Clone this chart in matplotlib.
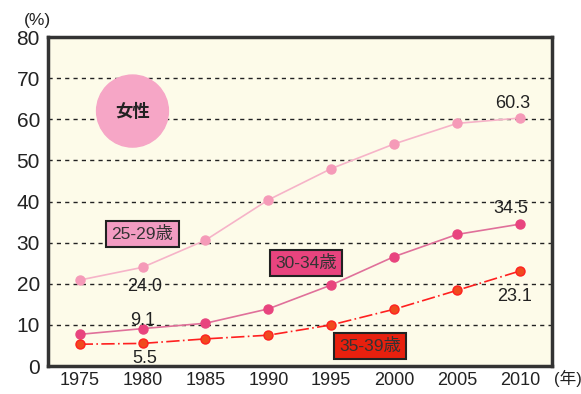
import numpy as np
import matplotlib
matplotlib.use("Agg")
import matplotlib.pyplot as plt
from matplotlib.patches import Ellipse

plt.rcParams['font.family'] = ['Liberation Sans', 'Noto Sans CJK JP']

# Data (unmarried rate of women, %)
years = [1975, 1980, 1985, 1990, 1995, 2000, 2005, 2010]
age_25_29 = [20.9, 24.0, 30.6, 40.4, 48.0, 54.0, 59.0, 60.3]
age_30_34 = [7.7, 9.1, 10.4, 13.9, 19.7, 26.6, 32.0, 34.5]
age_35_39 = [5.3, 5.5, 6.6, 7.5, 10.0, 13.8, 18.4, 23.1]
series_labels = ['25-29歳', '30-34歳', '35-39歳']
y_ticks = [0, 10, 20, 30, 40, 50, 60, 70, 80]

fig = plt.figure(figsize=(5.81, 3.94), dpi=100)
ax = fig.add_axes([0.083, 0.071, 0.867, 0.835])
ax.set_facecolor('#fdfbe9')

# grid
for v in y_ticks[1:-1]:
    ax.axhline(v, color='#222222', lw=1.0, ls=(0, (3, 3)), zorder=1)

ax.plot(years, age_25_29, color='#f6b3c8', lw=1.2, marker='o', ms=6.5,
        mfc='#f59ab8', mec='#f59ab8', zorder=3)
ax.plot(years, age_30_34, color='#e0709a', lw=1.2, marker='o', ms=6.5,
        mfc='#e8447e', mec='#e8447e', zorder=3)
ax.plot(years, age_35_39, color='#ff2020', lw=1.2, ls=(0, (8, 2, 1, 2)),
        marker='o', ms=6.5, mfc='#f04a1e', mec='#ff2020', zorder=3)

# value labels
tk = dict(fontsize=13, color='#222222', ha='center', va='center', zorder=5)
ax.text(2009.4, 63.9, f'{age_25_29[-1]:.1f}', **tk)
ax.text(2009.3, 38.2, f'{age_30_34[-1]:.1f}', **tk)
ax.text(2009.6, 16.8, f'{age_35_39[-1]:.1f}', **tk)
ax.text(1980.2, 19.3, f'{age_25_29[1]:.1f}', **tk)
ax.text(1980.0, 11.0, f'{age_30_34[1]:.1f}', **tk)
ax.text(1980.2, 1.8, f'{age_35_39[1]:.1f}', **tk)

# series name boxes
box_pos = [(1980.0, 32.1), (1993.0, 25.1), (1998.1, 4.9)]
box_col = ['#f29cc2', '#e8447e', '#e8200e']
for lab, (bx, by), bc in zip(series_labels, box_pos, box_col):
    ax.text(bx, by, lab, fontsize=12.5, color='#333333', ha='center', va='center',
            zorder=6,
            bbox=dict(boxstyle='square,pad=0.3', fc=bc, ec='#222222', lw=1.5))

# circle "女性"
circ = Ellipse((1979.2, 62.0), width=2 * 36 / 12.6, height=2 * 36 / 4.11,
               color='#f6a6c6', zorder=2)
ax.add_patch(circ)
ax.text(1979.2, 62.0, '女性', fontsize=12.5, fontweight='bold', color='#222222',
        ha='center', va='center', zorder=3)

ax.set_xlim(1972.5, 2012.55)
ax.set_ylim(0, 80)
ax.set_xticks(years)
ax.set_yticks(y_ticks)
ax.tick_params(axis='y', length=0, labelsize=15, colors='#222222', pad=6)
ax.tick_params(axis='x', length=0, labelsize=13, colors='#222222', pad=4)
for s in ax.spines.values():
    s.set_color('#333333')
    s.set_linewidth(2.5)

fig.text(0.064, 0.949, '(%)', fontsize=12.5, color='#222222', ha='center', va='center')
fig.text(0.954, 0.04, '(年)', fontsize=12, color='#222222', ha='left', va='center')

fig.savefig('out.png', dpi=100)
